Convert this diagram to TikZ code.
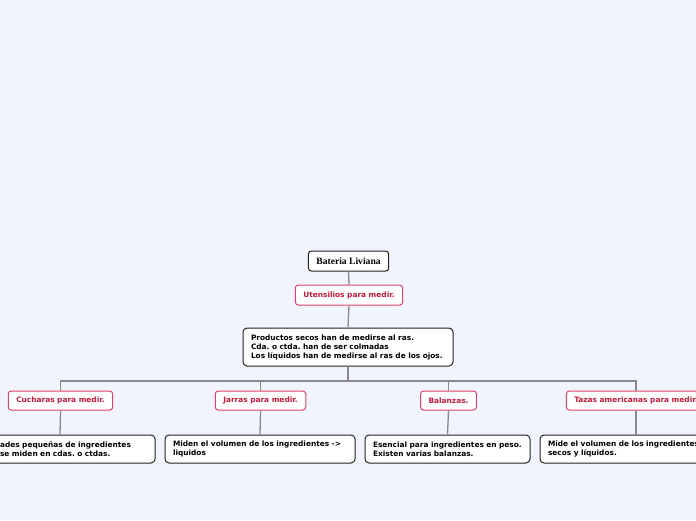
\documentclass[tikz,border=0pt]{standalone}
\usepackage{fontspec}
\setmainfont{DejaVu Sans}
\newfontfamily\rootfont{Liberation Serif}
\frenchspacing
\definecolor{bg}{HTML}{F1F4FD}
\definecolor{redborder}{HTML}{E0426A}
\definecolor{redtext}{HTML}{C8193C}
\definecolor{conncol}{HTML}{8A8A8E}
\definecolor{darkborder}{HTML}{222222}
\tikzset{
  rootbox/.style={draw=darkborder, line width=1pt, rounded corners=3pt, fill=white,
    minimum height=20pt, inner xsep=8pt, font=\rootfont\fontsize{9.6}{11}\selectfont\bfseries},
  redbox/.style={draw=redborder, line width=1pt, rounded corners=3pt, fill=white,
    minimum height=19pt, inner xsep=8pt, text=redtext, font=\fontsize{7.4}{9}\selectfont\bfseries\frenchspacing},
  textbox/.style={draw=darkborder, line width=1pt, rounded corners=4pt, fill=white,
    align=left, inner xsep=8pt, inner ysep=5pt, font=\fontsize{7.4}{9}\selectfont\bfseries\frenchspacing},
  conn/.style={draw=conncol, line width=1.3pt}
}
\begin{document}
\begin{tikzpicture}[x=1pt,y=-1pt]
\clip (0,0) rectangle (696,520);
\fill[bg] (0,0) rectangle (696,520);
\useasboundingbox (0,0) rectangle (696,520);

\coordinate (bar) at (0,381);

\node[rootbox] (root) at (348.5,261) {Bateria Liviana};
\node[redbox, minimum height=20pt] (ut) at (349,295) {Utensilios para medir.};
\node[textbox, text width=194pt, minimum height=38pt] (main) at (348,347) {Productos secos han de medirse al ras.\\Cda. o ctda. han de ser colmadas\\Los líquidos han de medirse al ras de los ojos.};

\node[redbox] (c1) at (60.5,400.5) {Cucharas para medir.};
\node[redbox] (c2) at (260.5,400.5) {Jarras para medir.};
\node[redbox] (c3) at (448.5,400.5) {Balanzas.};
\node[redbox] (c4) at (636,400.5) {Tazas americanas para medir.};

\node[textbox, minimum height=28pt, text width=174pt] (d1) at (60,449) {Cantidades pequeñas de ingredientes\\\hphantom{Cantid}se miden en cdas. o ctdas.};
\node[textbox, minimum height=28pt, text width=174pt] (d2) at (260,449) {Miden el volumen de los ingredientes ->\\liquidos};
\node[textbox, minimum height=28pt, text width=149pt] (d3) at (447.5,449) {Esencial para ingredientes en peso.\\Existen varias balanzas.};
\node[textbox, minimum height=28pt, text width=176pt] (d4) at (636,449) {Mide el volumen de los ingredientes\\secos y líquidos.};

\draw[conn] (root.south) -- (ut.north);
\draw[conn] (ut.south) -- (main.north);
\draw[conn] (main.south) -- (main.south |- bar) -| (c1.north);
\draw[conn] (main.south |- bar) -| (c2.north);
\draw[conn] (main.south |- bar) -| (c3.north);
\draw[conn] (main.south |- bar) -| (c4.north);
\draw[conn] (c1.south) -- (d1.north);
\draw[conn] (c2.south) -- (d2.north);
\draw[conn] (c3.south) -- (d3.north);
\draw[conn] (c4.south) -- (d4.north);
\end{tikzpicture}
\end{document}
